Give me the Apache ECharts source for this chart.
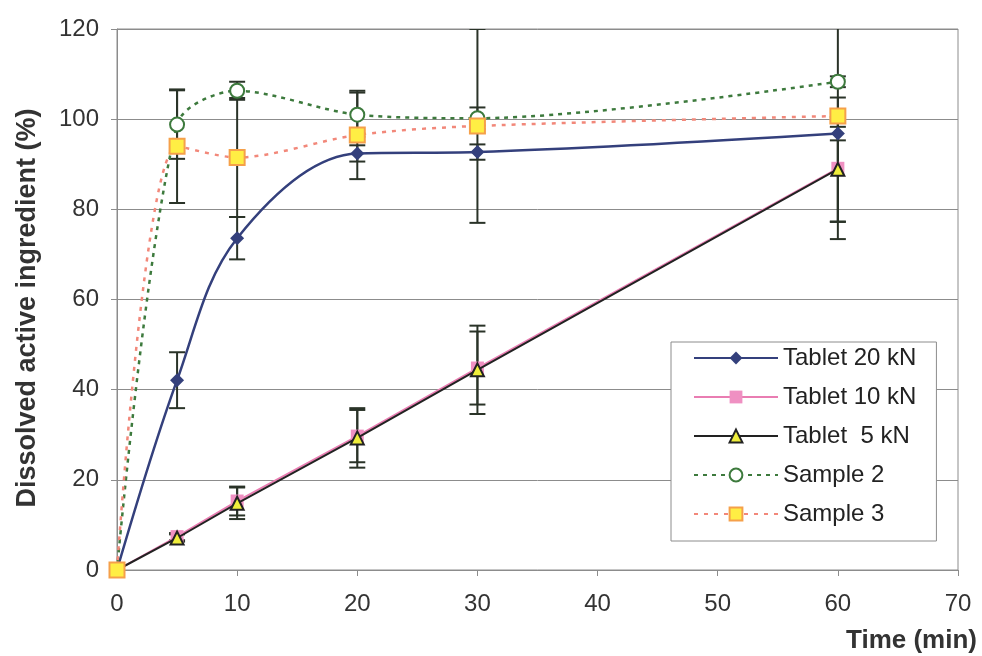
<!DOCTYPE html>
<html>
<head>
<meta charset="utf-8">
<script src="https://cdn.jsdelivr.net/npm/echarts@6/dist/echarts.min.js"></script>
<style>
  html, body { margin: 0; padding: 0; background: #ffffff; }
  #chart { width: 982px; height: 656px; }
</style>
</head>
<body>
<div id="chart"></div>
<script>
// Sampling times (min)
const timeMin = [0, 5, 10, 20, 30, 60];

// Dissolved active ingredient (%) and standard deviations per formulation
const tablet20 = [0, 42.1, 73.6, 92.4, 92.7, 96.8];
const tablet20Sd = [0, 6.2, 4.7, 1.8, 1.7, 1.5];

const tablet10 = [0, 7.4, 15.3, 29.7, 44.8, 89.1];
const tablet10Sd = [0, 0.8, 3.2, 5.8, 8.1, 15.7];

const tablet5 = [0, 7.1, 14.8, 29.3, 44.4, 88.9];
const tablet5Sd = [0, 0.8, 3.5, 6.6, 9.8, 11.6];

const sample2 = [0, 98.8, 106.3, 101.0, 100.2, 108.3];
const sample2Sd = [0, 7.6, 2.0, 4.9, 2.4, 1.2];

const sample3 = [0, 94.0, 91.5, 96.5, 98.5, 100.7];
const sample3Sd = [0, 12.6, 13.2, 9.8, 21.5, 23.5];

// Axis ticks
const xTicks = [0, 10, 20, 30, 40, 50, 60, 70];
const yTicks = [0, 20, 40, 60, 80, 100, 120];

const FONT = '"Liberation Sans", Arial, sans-serif';
const ERR_COLOR = '#2a3328';

function points(values) {
  return timeMin.map((t, i) => [t, values[i]]);
}

function errorData(values, sds) {
  return timeMin.map((t, i) => [t, values[i] - sds[i], values[i] + sds[i]]);
}

// Vertical error bar with caps, drawn through the axis scales
function renderErrorBar(params, api) {
  const x = api.value(0);
  const lo = api.coord([x, api.value(1)]);
  const hi = api.coord([x, api.value(2)]);
  const half = 8;
  const style = { stroke: ERR_COLOR, lineWidth: 2, fill: null };
  return {
    type: 'group',
    children: [
      { type: 'line', shape: { x1: lo[0], y1: lo[1], x2: hi[0], y2: hi[1] }, style: style },
      { type: 'line', shape: { x1: lo[0] - half, y1: lo[1], x2: lo[0] + half, y2: lo[1] }, style: style },
      { type: 'line', shape: { x1: hi[0] - half, y1: hi[1], x2: hi[0] + half, y2: hi[1] }, style: style }
    ]
  };
}

function errorSeries(values, sds) {
  return {
    type: 'custom',
    renderItem: renderErrorBar,
    data: errorData(values, sds),
    clip: true,
    silent: true,
    z: 1,
    encode: { x: 0, y: [1, 2] }
  };
}

const chart = echarts.init(document.getElementById('chart'), null, { renderer: 'canvas' });

chart.setOption({
  animation: false,
  backgroundColor: '#ffffff',
  grid: {
    left: 117, right: 24, top: 29, bottom: 86,
    show: true, borderColor: '#8c8c8c', borderWidth: 1, backgroundColor: 'transparent'
  },
  xAxis: {
    type: 'value',
    min: xTicks[0], max: xTicks[xTicks.length - 1], interval: xTicks[1] - xTicks[0],
    axisLine: { show: true, lineStyle: { color: '#8c8c8c', width: 1 } },
    axisTick: { show: true, inside: false, length: 6, lineStyle: { color: '#8c8c8c' } },
    splitLine: { show: false },
    axisLabel: { margin: 22, color: '#333333', fontSize: 24, fontFamily: FONT }
  },
  yAxis: {
    type: 'value',
    min: yTicks[0], max: yTicks[yTicks.length - 1], interval: yTicks[1] - yTicks[0],
    axisLine: { show: true, lineStyle: { color: '#8c8c8c', width: 1 } },
    axisTick: { show: true, inside: false, length: 6, lineStyle: { color: '#8c8c8c' } },
    splitLine: { show: true, lineStyle: { color: '#8c8c8c', width: 1 } },
    axisLabel: { margin: 18, color: '#333333', fontSize: 24, fontFamily: FONT }
  },
  legend: {
    orient: 'vertical',
    left: 671, top: 342,
    padding: [3, 20, 14, 22],
    itemWidth: 84, itemHeight: 16, itemGap: 13,
    backgroundColor: '#ffffff',
    borderColor: '#8c8c8c', borderWidth: 1,
    textStyle: { fontSize: 24, lineHeight: 26, color: '#222222', fontFamily: FONT },
    data: ['Tablet 20 kN', 'Tablet 10 kN', 'Tablet  5 kN', 'Sample 2', 'Sample 3']
  },
  graphic: [
    {
      type: 'text', x: 28, y: 308, rotation: Math.PI / 2,
      style: {
        text: 'Dissolved active ingredient (%)', fill: '#333333',
        font: 'bold 27px ' + FONT, align: 'center', verticalAlign: 'middle'
      }
    },
    {
      type: 'text', x: 977, y: 641,
      style: {
        text: 'Time (min)', fill: '#333333',
        font: 'bold 26px ' + FONT, align: 'right', verticalAlign: 'middle'
      }
    }
  ],
  series: [
    errorSeries(tablet20, tablet20Sd),
    errorSeries(tablet10, tablet10Sd),
    errorSeries(tablet5, tablet5Sd),
    errorSeries(sample2, sample2Sd),
    errorSeries(sample3, sample3Sd),
    {
      name: 'Tablet 20 kN', type: 'line', data: points(tablet20), smooth: 0.35,
      symbol: 'diamond', symbolSize: 14, z: 3,
      lineStyle: { color: '#34407c', width: 2.5 },
      itemStyle: { color: '#34407c' }
    },
    {
      name: 'Tablet 10 kN', type: 'line', data: points(tablet10),
      symbol: 'rect', symbolSize: 13, z: 3,
      lineStyle: { color: '#e97db2', width: 2 },
      itemStyle: { color: '#ef90c2' }
    },
    {
      name: 'Tablet  5 kN', type: 'line', data: points(tablet5),
      symbol: 'triangle', symbolSize: 13, z: 4,
      lineStyle: { color: '#222222', width: 2 },
      itemStyle: { color: '#efee3c', borderColor: '#222222', borderWidth: 2 }
    },
    {
      name: 'Sample 2', type: 'line', data: points(sample2), smooth: 0.3,
      symbol: 'emptyCircle', symbolSize: 14, z: 5,
      lineStyle: { color: '#3d7a3d', width: 2.5, type: [4, 5] },
      itemStyle: { color: '#3d7a3d', borderWidth: 2 }
    },
    {
      name: 'Sample 3', type: 'line', data: points(sample3), smooth: 0.3,
      symbol: 'rect', symbolSize: 15, z: 6,
      lineStyle: { color: '#f2887a', width: 2.5, type: [4, 6] },
      itemStyle: { color: '#ffee44', borderColor: '#f5a04a', borderWidth: 2 }
    }
  ]
});
</script>
</body>
</html>
